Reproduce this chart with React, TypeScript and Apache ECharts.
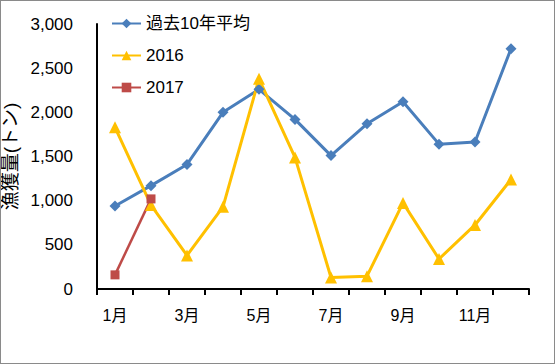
import React, { useEffect, useRef } from "react";
import * as echarts from "echarts";

const months = ["1月", "2月", "3月", "4月", "5月", "6月", "7月", "8月", "9月", "10月", "11月", "12月"];
const avg10 = [940, 1170, 1410, 2000, 2260, 1920, 1510, 1870, 2120, 1640, 1665, 2720];
const y2016 = [1830, 950, 380, 930, 2380, 1490, 130, 145, 975, 340, 725, 1240];
const y2017 = [160, 1020];
const yTicks = [0, 500, 1000, 1500, 2000, 2500, 3000];

export default function App() {
  const ref = useRef<HTMLDivElement>(null);
  useEffect(() => {
    document.body.style.margin = "0";
    const chart = echarts.init(ref.current!, undefined, { renderer: "svg" });
    const font = "'Liberation Sans', 'Noto Sans CJK JP', sans-serif";
    chart.setOption({
      animation: false,
      backgroundColor: "#fff",
      textStyle: { fontFamily: font },
      grid: { left: 96, right: 25, top: 23, bottom: 74, outerBoundsMode: "none", containLabel: false },
      legend: {
        orient: "vertical",
        left: 105,
        top: 9,
        itemGap: 15,
        itemWidth: 29,
        itemHeight: 12,
        textStyle: { fontSize: 17, color: "#000", fontFamily: font },
        data: ["過去10年平均", "2016", "2017"],
      },
      xAxis: {
        type: "category",
        data: months,
        boundaryGap: true,
        axisLine: { lineStyle: { color: "#000", width: 2 } },
        axisTick: { show: true, length: 6, interval: 0, lineStyle: { color: "#000", width: 2 } },
        axisLabel: { interval: 1, fontSize: 16, color: "#000", margin: 18, fontFamily: font },
      },
      yAxis: {
        type: "value",
        min: yTicks[0],
        max: yTicks[yTicks.length - 1],
        interval: 500,
        name: "漁獲量(トン)",
        nameLocation: "middle",
        nameRotate: 90,
        nameGap: 70,
        nameTextStyle: { fontSize: 19, color: "#000", fontFamily: font },
        splitLine: { show: false },
        axisLine: { show: true, lineStyle: { color: "#000", width: 2 } },
        axisTick: { show: false },
        axisLabel: {
          fontSize: 17,
          color: "#000",
          margin: 24,
          fontFamily: font,
          formatter: (v: number) => v.toLocaleString("en-US"),
        },
      },
      series: [
        {
          name: "過去10年平均",
          type: "line",
          data: avg10,
          symbol: "diamond",
          symbolSize: 11,
          lineStyle: { color: "#4A7EBB", width: 3 },
          itemStyle: { color: "#4A7EBB" },
        },
        {
          name: "2016",
          type: "line",
          data: y2016,
          symbol: "triangle",
          symbolSize: 12,
          lineStyle: { color: "#FFC000", width: 3 },
          itemStyle: { color: "#FFC000" },
        },
        {
          name: "2017",
          type: "line",
          data: y2017,
          symbol: "rect",
          symbolSize: 9,
          lineStyle: { color: "#BE4B48", width: 2.5 },
          itemStyle: { color: "#BE4B48" },
        },
      ],
    });
    return () => chart.dispose();
  }, []);
  return (
    <div
      ref={ref}
      style={{
        position: "fixed",
        left: 0,
        top: 0,
        width: 555,
        height: 364,
        boxSizing: "border-box",
        border: "1px solid #8a8a8a",
      }}
    />
  );
}
